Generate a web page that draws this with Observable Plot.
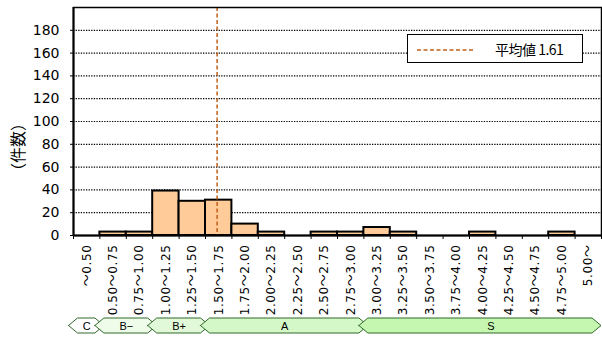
<!DOCTYPE html>
<html><head><meta charset="utf-8">
<script src="https://cdn.jsdelivr.net/npm/d3@7"></script>
<script src="https://cdn.jsdelivr.net/npm/@observablehq/plot@0.6"></script>
<style>
body{margin:0;background:#fff;}
#wrap{position:relative;width:602px;height:338px;overflow:hidden;font-family:"DejaVu Sans","Noto Sans CJK JP",sans-serif;}
#legend{position:absolute;left:407px;top:34px;width:176px;height:29px;box-sizing:border-box;border:1.5px solid #000;background:#fff;}
#legend svg{position:absolute;left:8px;top:13px;}
#legend span{position:absolute;left:87px;top:4px;font-size:14px;font-family:"Noto Sans CJK JP",sans-serif;letter-spacing:-0.5px;white-space:nowrap;}
#ylabel{position:absolute;left:17px;top:147px;transform:translate(-50%,-50%) rotate(-90deg);font-size:16px;font-family:"Noto Sans CJK JP",sans-serif;white-space:nowrap;line-height:1;}
</style></head><body><div id="wrap"></div>
<script>
// ---- data ----
const binLabels = ["～0.50","0.50～0.75","0.75～1.00","1.00～1.25","1.25～1.50","1.50～1.75","1.75～2.00","2.00～2.25","2.25～2.50","2.50～2.75","2.75～3.00","3.00～3.25","3.25～3.50","3.50～3.75","3.75～4.00","4.00～4.25","4.25～4.50","4.50～4.75","4.75～5.00","5.00～"];
const counts = [0,3,3,39,30,31,10,3,0,3,3,7,3,0,0,3,0,0,3,0];
const meanValue = 1.61;
const yTicks = [0,20,40,60,80,100,120,140,160,180];
const yTitle = "（件数）";
const legendLabel = "平均値";
const grades = ["C","B−","B+","A","S"];
const gradeLower = [null,0.5,1.0,1.5,3.0];   // score where each grade starts
const gradeFills = ["#ffffff","#effce9","#e2f9d9","#d5f8c8","#c6f7b0"];

// ---- layout ----
const W = 602, H = 338, mT = 7, mB = 103, mL = 73, mR = 1;
const yMax = 200;
const pxPerUnit = (H - mT - mB) / yMax;
const yAt = px => ((H - mB) - px) / pxPerUnit;   // pixel row -> y units
const scoreToX = s => (s - 0.5) / 0.25 + 1;      // score -> bin coordinate

const bars = counts.map((c, i) => ({i, c})).filter(d => d.c > 0);

// grade bands
const d = 0.17, nB = binLabels.length;
const bandTop = yAt(318), bandBot = yAt(333), bandMid = (bandTop + bandBot) / 2;
const bandMarks = [], bandText = [];
grades.forEach((g, k) => {
  const a = k === 0 ? 0 : scoreToX(gradeLower[k]);
  const b = k === grades.length - 1 ? nB - d : scoreToX(gradeLower[k + 1]);
  const pts = [
    {x: a - d, y1: bandMid, y2: bandMid},
    {x: a + d, y1: bandBot, y2: bandTop},
    {x: b - d, y1: bandBot, y2: bandTop},
    {x: b + d, y1: bandMid, y2: bandMid}
  ];
  bandMarks.push(Plot.areaY(pts, {x: "x", y1: "y1", y2: "y2", fill: gradeFills[k], stroke: "#2f6a2a", strokeWidth: 1, curve: "linear"}));
  bandText.push({g, x: (a + b) / 2 + (k === grades.length - 1 ? 0.4 : 0)});
});

const chart = Plot.plot({
  width: W, height: H,
  marginTop: mT, marginBottom: mB, marginLeft: mL, marginRight: mR,
  style: {fontFamily: "DejaVu Sans, sans-serif", fontSize: "14px", background: "#fff", color: "#000"},
  x: {domain: [0, nB], ticks: d3.range(nB + 1), tickFormat: () => "", tickSize: 4, label: null},
  y: {domain: [0, yMax], ticks: yTicks, tickSize: 3, tickPadding: 11, label: null},
  marks: [
    Plot.ruleY(yTicks.filter(v => v > 0), {stroke: "#000", strokeWidth: 1.2, strokeDasharray: "1.3,1.3"}),
    Plot.rectY(bars, {x1: d => d.i, x2: d => d.i + 1, y: "c", fill: "#ffcc99", stroke: "#000", strokeWidth: 2}),
    Plot.ruleX([meanValue], {x: v => scoreToX(v), stroke: "#c0601a", strokeWidth: 1.5, strokeDasharray: "4,2.5"}),
    Plot.frame({stroke: "#000", strokeWidth: 1.5}),
    Plot.ruleY([0], {stroke: "#000", strokeWidth: 2}),
    Plot.ruleX([0], {stroke: "#000", strokeWidth: 2}),
    Plot.text(binLabels, {x: (t, i) => i + 0.5, y: 0, text: t => t, rotate: -90, textAnchor: "end", lineAnchor: "middle", dy: 9, fontSize: 12, fontFamily: "DejaVu Sans, Noto Sans CJK JP, sans-serif"}),
    ...bandMarks,
    Plot.text(bandText, {x: "x", y: bandMid, text: "g", fontSize: 11, fontFamily: "Liberation Sans, sans-serif"})
  ]
});
document.getElementById("wrap").appendChild(chart);

// text styling tweaks
const svg = d3.select(chart);
svg.selectAll("text").filter(function () { return /^[\s\d]+$/.test(this.textContent); })
  .attr("font-size", 14).style("font-size", "14px").style("font-family", "DejaVu Sans, sans-serif");
svg.selectAll("text").filter(function () { return this.textContent.includes("～"); })
  .style("letter-spacing", "0.6px")
  .each(function () {
    const parts = this.textContent.split("～");
    const t = d3.select(this);
    t.text(null);
    parts.forEach((p, j) => {
      if (j > 0) t.append("tspan").style("font-family", "Noto Sans CJK JP, sans-serif").text("～");
      if (p) t.append("tspan").text(p);
    });
  });

// y title
const yl = document.createElement("div");
yl.id = "ylabel";
yl.textContent = yTitle;
document.getElementById("wrap").appendChild(yl);

// legend
const lg = document.createElement("div");
lg.id = "legend";
lg.innerHTML = `<svg width="60" height="4"><line x1="1" y1="2" x2="57" y2="2" stroke="#c0601a" stroke-width="1.5" stroke-dasharray="4,2.5"/></svg><span>${legendLabel} ${meanValue}</span>`;
document.getElementById("wrap").appendChild(lg);
</script></body></html>
